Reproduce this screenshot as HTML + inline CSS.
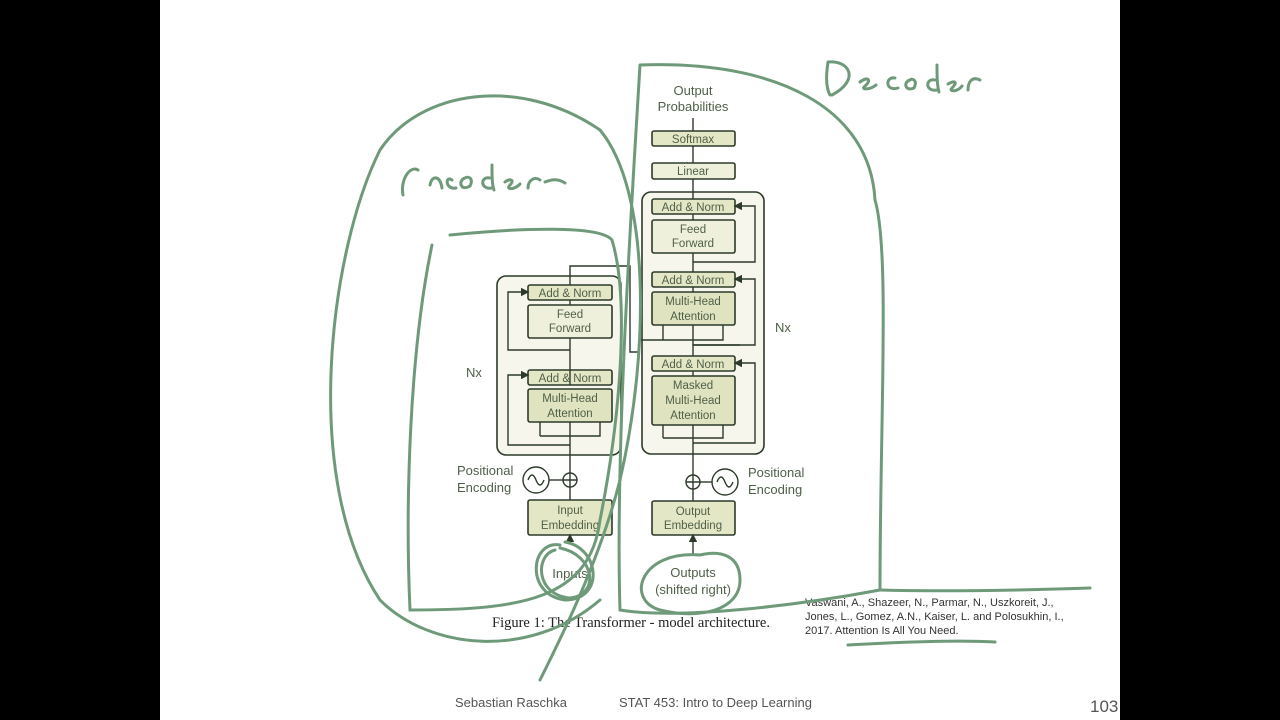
<!DOCTYPE html>
<html><head><meta charset="utf-8"><style>
html,body{margin:0;padding:0;background:#000;}
svg{display:block}
text{font-family:"Liberation Sans",sans-serif;}
text.serif{font-family:"Liberation Serif",serif;}
</style></head><body>
<svg width="1280" height="720" viewBox="0 0 1280 720" xmlns="http://www.w3.org/2000/svg">
<rect x="0" y="0" width="1280" height="720" fill="#000"/>
<rect x="160" y="0" width="960" height="720" fill="#fff"/>
<defs><marker id="a" markerWidth="6" markerHeight="6" refX="5" refY="3" orient="auto"><path d="M0,0 L6,3 L0,6z" fill="#2d3a2a"/></marker></defs>
<g stroke="#2d3a2a" stroke-width="1.6" fill="none">
<rect x="497" y="276" width="124" height="179" rx="9" fill="#f6f6ec"/>
<rect x="642" y="192" width="122" height="262" rx="9" fill="#f6f6ec"/>
</g>
<g stroke="#2d3a2a" stroke-width="1.6" fill="#e4e7c6">
<rect x="528" y="285" width="84" height="15" rx="2"/>
<rect x="528" y="305" width="84" height="33" rx="2" fill="#eef0dc"/>
<rect x="528" y="370" width="84" height="15" rx="2"/>
<rect x="528" y="389" width="84" height="33" rx="2" fill="#dfe3c0"/>
<rect x="528" y="500" width="84" height="35" rx="2"/>
<rect x="652" y="131" width="83" height="15" rx="2"/>
<rect x="652" y="163" width="83" height="16" rx="2" fill="#eef0dc"/>
<rect x="652" y="199" width="83" height="15" rx="2"/>
<rect x="652" y="220" width="83" height="33" rx="2" fill="#eef0dc"/>
<rect x="652" y="272" width="83" height="15" rx="2"/>
<rect x="652" y="292" width="83" height="33" rx="2" fill="#dfe3c0"/>
<rect x="652" y="356" width="83" height="15" rx="2"/>
<rect x="652" y="376" width="83" height="49" rx="2" fill="#dfe3c0"/>
<rect x="652" y="501" width="83" height="34" rx="2"/>
</g>
<g stroke="#2d3a2a" stroke-width="1.4" fill="none">
<path d="M570 540 V535" marker-end="url(#a)"/>
<path d="M570 500 V487" />
<path d="M570 473 V422"/>
<path d="M570 385 V338"/><path d="M570 305 V300"/>
<path d="M570 285 V266 H630 V352 H640"/>
<path d="M570 445 H508 V375 H528" marker-end="url(#a)"/>
<path d="M570 350 H508 V292 H528" marker-end="url(#a)"/>
<path d="M540 436 V422 M540 436 H600 V422"/>
<circle cx="570" cy="480" r="7"/><path d="M563 480 H577 M570 473 V487"/>
<circle cx="536" cy="480" r="13"/><path d="M549 480 H563"/>
<path d="M528 480 q4 -10 8 0 q4 10 8 0"/>
<path d="M693 555 V535" marker-end="url(#a)"/>
<path d="M693 501 V489"/><path d="M693 475 V425"/>
<path d="M693 376 V371"/><path d="M693 356 V345 H740"/>
<path d="M693 345 V325 M693 292 V287 M693 272 V253 M693 220 V214 M693 199 V179 M693 163 V146 M693 131 V118"/>
<path d="M693 443 H755 V363 H735" marker-end="url(#a)"/>
<path d="M693 345 H755 V279 H735" marker-end="url(#a)"/>
<path d="M693 262 H755 V206 H735" marker-end="url(#a)"/>
<path d="M663 438 V425 M663 438 H723 V425"/>
<path d="M640 340 H663 V325 M663 340 H723 V325"/>
<circle cx="693" cy="482" r="7"/><path d="M686 482 H700 M693 475 V489"/>
<circle cx="725" cy="482" r="13"/><path d="M700 482 H712"/>
<path d="M717 482 q4 -10 8 0 q4 10 8 0"/>
</g>
<g fill="#4f5f48" font-size="11.5" text-anchor="middle">
<text x="570" y="297">Add &amp; Norm</text>
<text x="570" y="318">Feed</text><text x="570" y="332">Forward</text>
<text x="570" y="382">Add &amp; Norm</text>
<text x="570" y="402">Multi-Head</text><text x="570" y="417">Attention</text>
<text x="570" y="514">Input</text><text x="570" y="529">Embedding</text>
<text x="693" y="143">Softmax</text>
<text x="693" y="175">Linear</text>
<text x="693" y="211">Add &amp; Norm</text>
<text x="693" y="233">Feed</text><text x="693" y="247">Forward</text>
<text x="693" y="284">Add &amp; Norm</text>
<text x="693" y="305">Multi-Head</text><text x="693" y="320">Attention</text>
<text x="693" y="368">Add &amp; Norm</text>
<text x="693" y="389">Masked</text><text x="693" y="404">Multi-Head</text><text x="693" y="419">Attention</text>
<text x="693" y="515">Output</text><text x="693" y="529">Embedding</text>
</g>
<g fill="#4f5f48" font-size="13">
<text x="466" y="377">Nx</text><text x="775" y="332">Nx</text>
<text x="457" y="475">Positional</text><text x="457" y="492">Encoding</text>
<text x="748" y="477">Positional</text><text x="748" y="494">Encoding</text>
<text x="693" y="95" text-anchor="middle">Output</text>
<text x="693" y="111" text-anchor="middle">Probabilities</text>
<text x="570" y="578" text-anchor="middle">Inputs</text>
<text x="693" y="577" text-anchor="middle">Outputs</text>
<text x="693" y="594" text-anchor="middle">(shifted right)</text>
</g>
<text class="serif" x="631" y="627" font-size="14.5" fill="#222" text-anchor="middle">Figure 1: The Transformer - model architecture.</text>
<g fill="#333" font-size="11">
<text x="805" y="606">Vaswani, A., Shazeer, N., Parmar, N., Uszkoreit, J.,</text>
<text x="805" y="620">Jones, L., Gomez, A.N., Kaiser, L. and Polosukhin, I.,</text>
<text x="805" y="634">2017. Attention Is All You Need.</text>
</g>
<g fill="#555" font-size="13">
<text x="455" y="707">Sebastian Raschka</text>
<text x="619" y="707">STAT 453: Intro to Deep Learning</text>
<text x="1090" y="712" font-size="17">103</text>
</g>
<g stroke="#6f9a7a" stroke-width="3" fill="none" stroke-linecap="round">
<path d="M640 65 C 632 200, 615 450, 620 610 C 680 620, 800 605, 880 590 C 880 420, 890 250, 875 200 C 870 110, 780 60, 640 65"/>
<path d="M880 590 C 950 592, 1030 590, 1090 588"/>
<path d="M450 235 C 520 228, 600 225, 612 240 C 630 300, 620 420, 600 520 C 590 600, 520 610, 410 610 C 405 500, 410 350, 432 245"/>
<path d="M600 600 C 530 660, 430 650, 380 600 C 300 480, 330 250, 380 150 C 420 90, 520 75, 600 130 C 650 190, 650 350, 620 480 C 600 560, 560 640, 540 680"/>
<path d="M560 545 C 530 540, 525 595, 565 600 C 605 600, 600 548, 565 542 M555 550 C 535 555, 535 595, 570 598 C 600 595, 595 555, 560 548"/>
<path d="M700 555 C 640 550, 625 600, 660 610 C 700 620, 740 610, 740 580 C 740 555, 720 550, 700 555"/>
<path d="M848 645 C 900 642, 960 640, 995 642"/>
<path d="M403 195 C 400 180, 410 165, 418 170 M400 185 C 410 183, 420 180 M402 196 C 410 195, 420 193"/>
<path d="M430 185 C 432 175, 440 175, 442 188 M452 180 C 445 175, 445 190, 456 188 M465 178 C 458 180, 460 192, 470 186 C 474 178, 468 176, 465 178 M490 178 C 480 176, 480 190, 492 188 M492 165 C 492 175, 492 185, 494 190 M505 182 C 510 178, 515 180, 510 185 C 505 190, 515 190, 520 184 M528 188 C 528 180, 535 176, 540 180 M545 182 C 555 178, 560 180, 565 183"/>
<path d="M828 62 C 826 75, 826 88, 830 95 M828 62 C 850 60, 860 80, 832 95 M860 82 C 868 76, 872 80, 865 86 C 860 90, 870 90, 876 85 M895 78 C 885 76, 885 92, 898 88 M910 80 C 903 82, 905 92, 914 88 C 918 80, 912 78, 910 80 M935 80 C 925 78, 925 92, 937 90 M937 65 C 937 75, 937 85, 939 92 M948 84 C 955 80, 958 82, 952 88 C 948 92, 958 92, 962 86 M968 90 C 968 82, 972 76, 980 80"/>
</g>
</svg>
</body></html>
